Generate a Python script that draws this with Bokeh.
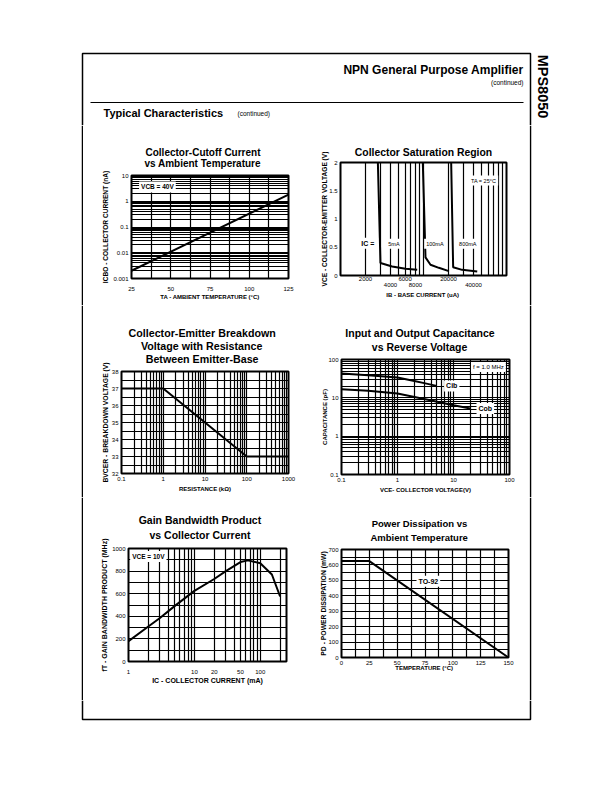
from bokeh.plotting import figure
from bokeh.layouts import row, column
from bokeh.models import Range1d, FixedTicker, CustomJSTickFormatter, Label, LogAxis, Span, Title
from bokeh.embed import file_html
from bokeh.resources import INLINE

FONT = "Liberation Sans"

# ---------------- data ----------------
cutoff_temp_c = [25, 125]
cutoff_icbo_na = [0.002, 1.8]

sat_ib_5ma = [2820, 3030, 4190, 6070, 8400]
sat_vce_5ma = [2.0, 0.22, 0.16, 0.118, 0.10]
sat_ib_100ma = [9810, 10570, 12140, 15300, 20200]
sat_vce_100ma = [2.0, 0.32, 0.19, 0.136, 0.077]
sat_ib_800ma = [21550, 22760, 29200, 44400]
sat_vce_800ma = [2.0, 0.147, 0.10, 0.07]

bv_res_kohm = [0.1, 1, 100, 1000]
bv_cer_v = [37, 37, 33, 33]

cib_vce = [0.1, 0.3, 1, 2, 3, 5]
cib_pf = [43, 39, 34, 27.4, 24.2, 20.5]
cob_vce = [0.1, 0.3, 1, 3, 10, 20]
cob_pf = [16.8, 15.2, 13, 9.3, 6.4, 5.3]

ft_ic_ma = [1, 2, 3, 5, 10, 20, 30, 50, 65, 100, 150, 200]
ft_mhz = [180, 310, 385, 490, 625, 730, 800, 880, 895, 870, 770, 575]

pd_temp_c = [0, 25, 150]
pd_mw = [625, 625, 0]

# ---------------- tick labels ----------------
cutoff_x_ticks = [25, 50, 75, 100, 125]
cutoff_y_ticks = [0.001, 0.01, 0.1, 1, 10]
sat_x_ticks_upper = [2000, 6000, 20000]
sat_x_ticks_lower = [4000, 8000, 40000]
sat_y_ticks = [0, 0.5, 1, 1.5, 2]
bv_x_ticks = [0.1, 1, 10, 100, 1000]
bv_y_ticks = [32, 33, 34, 35, 36, 37, 38]
cap_x_ticks = [0.1, 1, 10, 100]
cap_y_ticks = [0.1, 1, 10, 100]
ft_x_ticks = [1, 10, 20, 50, 100]
ft_y_ticks = [0, 200, 400, 600, 800, 1000]
pd_x_ticks = [0, 25, 50, 75, 100, 125, 150]
pd_y_ticks = [0, 100, 200, 300, 400, 500, 600, 700]


def log_grid(lo_exp, hi_exp):
    return [m * 10.0 ** e for e in range(lo_exp, hi_exp) for m in range(1, 10)] + [10.0 ** hi_exp]


def lin_grid(lo, hi, step):
    n = int(round((hi - lo) / step))
    return [lo + i * step for i in range(n + 1)]


FMT = "return String(tick);"


def style_axis(ax, label_size="6px", tick_standoff=3, label_standoff=2):
    ax.axis_line_color = None
    ax.major_tick_line_color = None
    ax.minor_tick_line_color = None
    ax.major_tick_out = 0
    ax.major_tick_in = 0
    ax.minor_tick_out = 0
    ax.minor_tick_in = 0
    ax.major_label_text_font = FONT
    ax.major_label_text_font_size = "6px"
    ax.major_label_text_color = "black"
    ax.major_label_standoff = int(tick_standoff)
    ax.axis_label_text_font = FONT
    ax.axis_label_text_font_style = "bold"
    ax.axis_label_text_font_size = label_size
    ax.axis_label_text_color = "black"
    ax.axis_label_standoff = int(label_standoff)
    ax.formatter = CustomJSTickFormatter(code=FMT)


def make_chart(w, h, xr, yr, xtype, ytype, mb, titles, tsize, tstandoffs, toffsets,
               xticks, yticks, xgrid, ygrid, xlabel, ylabel, label_size="6px",
               x_std=(3, 2), y_std=(3, 2), ylabel_size=None):
    l, r, t, b = mb
    p = figure(width=w, height=h, x_range=xr, y_range=yr,
               x_axis_type=xtype, y_axis_type=ytype,
               output_backend="svg", toolbar_location=None, title=None,
               min_border_left=l, min_border_right=r,
               min_border_top=t, min_border_bottom=b)
    # title lines: added from the one nearest the frame outwards
    for line, so, off in reversed(list(zip(titles, tstandoffs, toffsets))):
        kw = dict(align="center") if off is None else dict(align="left", offset=off)
        p.add_layout(Title(text=line, text_font=FONT, text_font_style="bold",
                           text_font_size=tsize, text_color="black", standoff=so, **kw), "above")
    p.outline_line_color = "black"
    p.outline_line_width = 2
    p.outline_line_alpha = 1
    p.xaxis.ticker = FixedTicker(ticks=xticks)
    p.yaxis.ticker = FixedTicker(ticks=yticks)
    p.xaxis.axis_label = xlabel
    p.yaxis.axis_label = ylabel
    for ax in p.xaxis:
        style_axis(ax, label_size, *x_std)
    for ax in p.yaxis:
        style_axis(ax, ylabel_size or label_size, *y_std)
    if xgrid is None:
        p.xgrid.visible = False
    else:
        p.xgrid.ticker = FixedTicker(ticks=xgrid)
    if ygrid is None:
        p.ygrid.visible = False
    else:
        p.ygrid.ticker = FixedTicker(ticks=ygrid)
    p.grid.grid_line_color = "black"
    p.grid.grid_line_width = 1.2
    p.grid.grid_line_alpha = 1
    return p


def box_label(p, x, y, text, size="6.5px", style="bold", align="center"):
    p.add_layout(Label(x=x, y=y, text=text, text_font=FONT, text_font_size=size,
                       text_font_style=style, text_align=align, text_baseline="middle",
                       text_color="black", background_fill_color="white",
                       background_fill_alpha=1, padding=2))


def page_fig(w, h):
    p = figure(width=w, height=h, x_range=Range1d(0, w), y_range=Range1d(h, 0),
               output_backend="svg", toolbar_location=None, title=None,
               min_border=0, x_axis_location=None, y_axis_location=None)
    p.grid.visible = False
    p.outline_line_color = None
    return p


def strip(w, h, xline):
    p = page_fig(w, h)
    p.add_layout(Span(location=xline, dimension="height", line_color="black", line_width=1.5))
    return p


# ---------------- header ----------------
HEADER_H = 125
header = page_fig(612, HEADER_H)
header.line([82, 82, 530, 530], [HEADER_H, 53, 53, HEADER_H], line_color="black", line_width=1.5)
header.line([90, 523], [102, 102], line_color="black", line_width=1.2)
header.add_layout(Label(x=523, y=69, text="NPN General Purpose Amplifier", text_font=FONT,
                        text_font_style="bold", text_font_size="12px", text_align="right",
                        text_baseline="middle", text_color="black"))
header.add_layout(Label(x=523, y=82, text="(continued)", text_font=FONT,
                        text_font_size="6.5px", text_align="right",
                        text_baseline="middle", text_color="black"))
header.add_layout(Label(x=103, y=112, text="Typical Characteristics", text_font=FONT,
                        text_font_style="bold", text_font_size="11px", text_align="left",
                        text_baseline="middle", text_color="black"))
header.add_layout(Label(x=237, y=113, text="(continued)", text_font=FONT,
                        text_font_size="6.5px", text_align="left",
                        text_baseline="middle", text_color="black"))
header.add_layout(Label(x=542, y=86, text="MPS8050", text_font=FONT, angle=-90,
                        angle_units="deg", text_font_style="bold", text_font_size="14.5px",
                        text_align="center", text_baseline="middle", text_color="black"))

# ---------------- chart 1 ----------------
c1 = make_chart(229, 180, Range1d(25, 125), Range1d(0.001, 10), "linear", "log",
                (48, 24, 50, 27), ["Collector-Cutoff Current", "vs Ambient Temperature"],
                "10px", [-16.7, 13.2], [14.0, 12.9],
                cutoff_x_ticks, cutoff_y_ticks, lin_grid(25, 125, 12.5), log_grid(-3, 1),
                "TA - AMBIENT TEMPERATURE (\u00b0C)", "ICBO - COLLECTOR CURRENT (nA)",
                x_std=(8, 0), y_std=(3, 1), ylabel_size="6.6px")
c1.line(cutoff_temp_c, cutoff_icbo_na, line_color="black", line_width=2)
box_label(c1, 41.5, 3.6, "VCB = 40V")

# ---------------- chart 2 ----------------
c2 = make_chart(217, 180, Range1d(1000, 100000), Range1d(0, 2), "log", "linear",
                (28, 23, 37, 30), ["Collector Saturation Region"], "10.4px", [9.4], [None],
                sat_x_ticks_upper, sat_y_ticks, log_grid(3, 5), None,
                "", "VCE - COLLECTOR-EMITTER VOLTAGE (V)",
                x_std=(1, 0), y_std=(3, -2), ylabel_size="6.6px")
ax2 = LogAxis(ticker=FixedTicker(ticks=sat_x_ticks_lower), axis_label="IB - BASE CURRENT  (uA)")
style_axis(ax2, "6px", -1, 2)
c2.add_layout(ax2, "below")
for xs, ys in [(sat_ib_5ma, sat_vce_5ma), (sat_ib_100ma, sat_vce_100ma), (sat_ib_800ma, sat_vce_800ma)]:
    c2.line(xs, ys, line_color="black", line_width=2)
box_label(c2, 2190, 0.57, "IC  =", size="7px")
box_label(c2, 4400, 0.56, "5mA", size="5.5px", style="normal")
box_label(c2, 13700, 0.56, "100mA", size="5.5px", style="normal")
box_label(c2, 34200, 0.56, "800mA", size="5.5px", style="normal")
box_label(c2, 53000, 1.68, "TA = 25\u00b0C", size="5.5px", style="normal")

# ---------------- chart 3 ----------------
c3 = make_chart(229, 192, Range1d(0.1, 1000), Range1d(32, 38), "log", "linear",
                (38, 24, 66, 24),
                ["Collector-Emitter Breakdown", "Voltage with Resistance", "Between Emitter-Base"],
                "10.7px", [12.4, -13.6, 12.4], [7.0, 19.4, 24.2],
                bv_x_ticks, bv_y_ticks, log_grid(-1, 3), lin_grid(32, 38, 0.5),
                "RESISTANCE (k\u03a9)", "BVCER - BREAKDOWN VOLTAGE (V)",
                x_std=(3, 2), y_std=(3, 0), ylabel_size="6.8px")
c3.line(bv_res_kohm, bv_cer_v, line_color="black", line_width=2)

# ---------------- chart 4 ----------------
c4 = make_chart(217, 192, Range1d(0.1, 100), Range1d(0.1, 100), "log", "log",
                (29, 20, 54, 23), ["Input and Output Capacitance", "vs Reverse Voltage"],
                "10.5px", [-13.2, 12.6], [3.8, 30.3],
                cap_x_ticks, cap_y_ticks, log_grid(-1, 2), log_grid(-1, 2),
                "VCE- COLLECTOR VOLTAGE(V)", "CAPACITANCE (pF)",
                x_std=(3, 2), y_std=(3, -3))
c4.line(cib_vce, cib_pf, line_color="black", line_width=2)
c4.line(cob_vce, cob_pf, line_color="black", line_width=2)
box_label(c4, 9.3, 20.5, "Cib", size="7px")
box_label(c4, 37, 5.3, "Cob", size="7px")
box_label(c4, 42, 64, "f = 1.0 MHz", size="6px", style="normal")

# ---------------- chart 5 ----------------
c5 = make_chart(229, 203, Range1d(1, 250), Range1d(0, 1000), "log", "linear",
                (45, 26, 51, 39), ["Gain Bandwidth Product", "vs Collector Current"],
                "10.5px", [-13.2, 14.6], [10.2, 21.0],
                ft_x_ticks, ft_y_ticks, log_grid(0, 2) + [200], lin_grid(0, 1000, 100),
                "IC - COLLECTOR CURRENT (mA)", "fT - GAIN BANDWIDTH PRODUCT (MHz)",
                label_size="7px", x_std=(8, 0), y_std=(3, 1))
c5.line(ft_ic_ma, ft_mhz, line_color="black", line_width=2)
box_label(c5, 2.0, 930, "VCE = 10V")

# ---------------- chart 6 ----------------
c6 = make_chart(217, 203, Range1d(0, 150), Range1d(0, 700), "linear", "linear",
                (29, 21, 52, 43), ["Power Dissipation vs", "Ambient Temperature"],
                "9.5px", [-12.2, 13.8], [30.2, 28.9],
                pd_x_ticks, pd_y_ticks, lin_grid(0, 150, 12.5), lin_grid(0, 700, 50),
                "TEMPERATURE  (\u00b0C)", "PD - POWER DISSIPATION (mW)",
                x_std=(3, -3), y_std=(3, -2), ylabel_size="6.8px")
c6.line(pd_temp_c, pd_mw, line_color="black", line_width=2)
box_label(c6, 78, 495, "TO-92", size="7px")

# ---------------- footer ----------------
footer = page_fig(612, 92)
footer.line([82, 82, 530, 530], [0, 19, 19, 0], line_color="black", line_width=1.5)

r1 = row(strip(83, 180, 82), column(c1), column(c2), strip(83, 180, 1), spacing=0)
r2 = row(strip(83, 192, 82), column(c3), column(c4), strip(83, 192, 1), spacing=0)
r3 = row(strip(83, 203, 82), column(c5), column(c6), strip(83, 203, 1), spacing=0)
layout = column(header, r1, r2, r3, footer, spacing=0)

open("out.html", "w").write(file_html(layout, INLINE, "MPS8050"))
